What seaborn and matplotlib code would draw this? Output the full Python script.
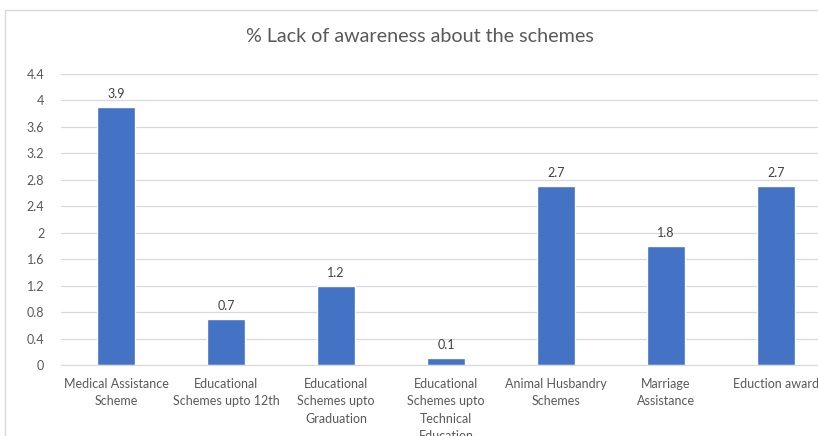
import matplotlib
matplotlib.use("Agg")
import matplotlib.pyplot as plt
import seaborn as sns
import pandas as pd
from matplotlib.patches import Rectangle

categories = ["Medical Assistance\nScheme", "Educational\nSchemes upto 12th",
              "Educational\nSchemes upto\nGraduation",
              "Educational\nSchemes upto\nTechnical\nEducation",
              "Animal Husbandry\nSchemes", "Marriage\nAssistance", "Eduction award"]
values = [3.9, 0.7, 1.2, 0.1, 2.7, 1.8, 2.7]
yticks = [0, 0.4, 0.8, 1.2, 1.6, 2, 2.4, 2.8, 3.2, 3.6, 4, 4.4]
ytick_labels = ["0", "0.4", "0.8", "1.2", "1.6", "2", "2.4", "2.8", "3.2", "3.6", "4", "4.4"]
title = "% Lack of awareness about the schemes"

sns.set_style("white")
plt.rcParams['font.family'] = ['Lato', 'DejaVu Sans']

W, H = 818, 436
fig = plt.figure(figsize=(W / 100, H / 100), dpi=100)
fig.patch.set_facecolor("white")

# chart border (partly cropped)
fig.patches.append(Rectangle((5 / W, -0.05), 1.2, (H - 10) / H + 0.05, transform=fig.transFigure,
                             fill=False, edgecolor="#d9d9d9", linewidth=1.0))

y0, y1 = 365, 74
ax = fig.add_axes([61 / W, (H - y0) / H, 770 / W, (y0 - y1) / H])
df = pd.DataFrame({"cat": categories, "val": values})
sns.barplot(data=df, x="cat", y="val", color="#4472C4", saturation=1, width=0.35, ax=ax)
ax.set_xlim(-0.5, 6.5)
ax.set_ylim(0, 4.4)
ax.set_yticks(yticks)
ax.set_yticklabels(ytick_labels)
ax.grid(axis="y", color="#d9d9d9", linewidth=0.9)
ax.set_axisbelow(True)
for s in ax.spines.values():
    s.set_visible(False)
ax.spines["bottom"].set_visible(True)
ax.spines["bottom"].set_color("#d9d9d9")
ax.set_xlabel("")
ax.set_ylabel("")
ax.tick_params(axis="both", length=0, labelsize=9, colors="#595959", pad=9)
ax.tick_params(axis="y", pad=12)
for lbl in ax.get_xticklabels():
    lbl.set_linespacing(1.55)
    lbl.set_verticalalignment("top")
for c in ax.containers:
    ax.bar_label(c, labels=[f"{v:g}" for v in values], padding=5, fontsize=9, color="#404040")

fig.text(420 / W, 1 - 37 / H, title, ha="center", va="center", fontsize=14.2, color="#595959")

fig.savefig("out.png", dpi=100)
